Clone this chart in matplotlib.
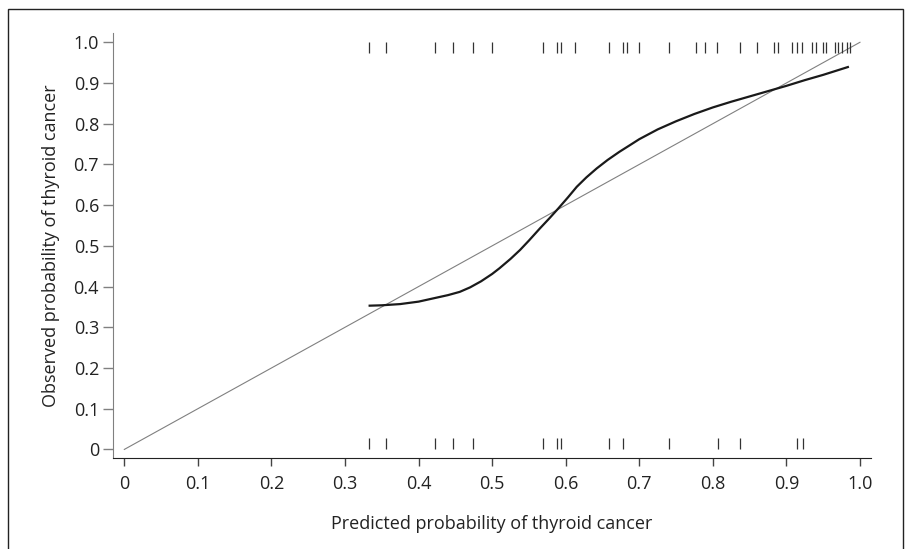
import numpy as np
import matplotlib
matplotlib.use("Agg")
import matplotlib.pyplot as plt
from matplotlib.patches import Rectangle

plt.rcParams['font.family'] = ['Open Sans', 'DejaVu Sans']

# calibration curve
curve_x = [0.332, 0.350, 0.375, 0.400, 0.420, 0.440, 0.456, 0.470, 0.485, 0.500,
           0.510, 0.525, 0.538, 0.550, 0.565, 0.578, 0.590, 0.603, 0.615, 0.628,
           0.642, 0.657, 0.673, 0.687, 0.700, 0.725, 0.750, 0.775, 0.800, 0.825,
           0.850, 0.875, 0.900, 0.925, 0.950, 0.985]
curve_y = [0.353, 0.354, 0.357, 0.363, 0.371, 0.379, 0.387, 0.398, 0.413, 0.431,
           0.445, 0.468, 0.490, 0.513, 0.543, 0.568, 0.592, 0.619, 0.645, 0.668,
           0.690, 0.711, 0.731, 0.747, 0.762, 0.786, 0.806, 0.824, 0.840, 0.854,
           0.867, 0.880, 0.893, 0.907, 0.920, 0.940]

# rug marks: predicted probabilities of cases (top) and non-cases (bottom)
rug_top = [0.332, 0.356, 0.422, 0.447, 0.474, 0.500, 0.569, 0.588, 0.593, 0.613,
           0.659, 0.678, 0.683, 0.699, 0.741, 0.777, 0.790, 0.806, 0.837, 0.860,
           0.883, 0.889, 0.908, 0.914, 0.921, 0.935, 0.940, 0.950, 0.954, 0.966,
           0.970, 0.976, 0.982, 0.986]
rug_bottom = [0.332, 0.356, 0.422, 0.447, 0.474, 0.569, 0.588, 0.593, 0.659,
              0.678, 0.741, 0.807, 0.837, 0.915, 0.922]

ticks = np.round(np.arange(0, 1.01, 0.1), 1)
tick_labels = ['0'] + ['%.1f' % t for t in ticks[1:]]

fig = plt.figure(figsize=(9.09, 5.49), dpi=100)
ax = fig.add_axes([0.1243, 0.1658, 0.8339, 0.7735])

# outer frame
fig.patches.append(Rectangle((0.0088, -0.1), 0.9846, 1.0836, transform=fig.transFigure,
                             fill=False, edgecolor='#222222', linewidth=1.0, clip_on=False))

ax.plot([0, 1], [0, 1], color='#808080', linewidth=0.8)
ax.plot(curve_x, curve_y, color='#1a1a1a', linewidth=1.6, solid_capstyle='butt')
ax.vlines(rug_top, 0.973, 1.0, color='#333333', linewidth=0.9)
ax.vlines(rug_bottom, 0.0, 0.027, color='#333333', linewidth=0.9)

ax.set_xlim(-0.0154, 1.015)
ax.set_ylim(-0.021, 1.022)
ax.set_xticks(ticks)
ax.set_xticklabels(tick_labels)
ax.set_yticks(ticks)
ax.set_yticklabels(tick_labels)

for s in ['top', 'right']:
    ax.spines[s].set_visible(False)
ax.spines['left'].set_color('#808080')
ax.spines['bottom'].set_color('#222222')
ax.tick_params(axis='y', colors='#808080', labelcolor='#222222', length=7, width=1,
               labelsize=13, pad=3)
ax.tick_params(axis='x', colors='#444444', labelcolor='#222222', length=6, width=1,
               labelsize=13, pad=6)

ax.set_xlabel('Predicted probability of thyroid cancer', fontsize=13, color='#222222', labelpad=16)
ax.set_ylabel('Observed probability of thyroid cancer', fontsize=13, color='#222222', labelpad=10)

fig.savefig('out.png', dpi=100)
